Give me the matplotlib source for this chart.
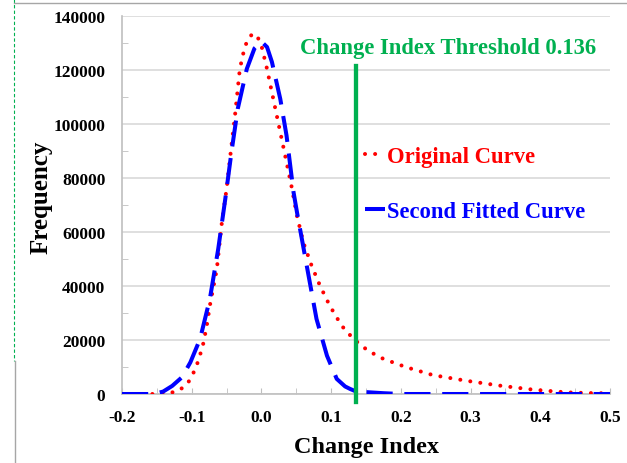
import matplotlib
matplotlib.use("Agg")
import matplotlib.pyplot as plt
from matplotlib.lines import Line2D
from matplotlib.ticker import MultipleLocator

# Original curve (red, dotted)
orig_x = [-0.20, -0.15, -0.14, -0.13, -0.122, -0.113, -0.105, -0.099, -0.093,
          -0.088, -0.083, -0.078, -0.074, -0.069, -0.064, -0.057, -0.050,
          -0.043, -0.038, -0.031, -0.024, -0.018, -0.012, -0.006, 0.000,
          0.008, 0.019, 0.029, 0.043, 0.051, 0.060, 0.072, 0.084, 0.098,
          0.115, 0.132, 0.153, 0.175, 0.208, 0.246, 0.294, 0.342, 0.390,
          0.438, 0.470, 0.500]
orig_y = [0, 0, 200, 500, 900, 2300, 4300, 7000, 10500,
          14500, 19100, 26000, 32700, 39500, 46300, 63000, 76000,
          92000, 103000, 120400, 128500, 132000, 133500, 132500, 129000,
          120400, 106800, 94500, 77100, 66000, 56200, 47500, 40100, 32700,
          25300, 20400, 16000, 13000, 9900, 7000, 4900, 3100, 1600,
          600, 350, 250]

# Second fitted curve (blue, dashed)
fit_x = [-0.20, -0.16, -0.15, -0.141, -0.128, -0.114, -0.102, -0.088, -0.074,
         -0.062, -0.052, -0.043, -0.034, -0.021, -0.010, 0.000, 0.008, 0.015,
         0.027, 0.036, 0.046, 0.051, 0.065, 0.079, 0.094, 0.108, 0.120,
         0.127, 0.136, 0.150, 0.175, 0.200, 0.500]
fit_y = [0, 0, 300, 900, 3000, 6200, 11700, 20400, 35200,
         53700, 72000, 89600, 105600, 120400, 128000, 130500, 128500, 123000,
         109300, 95700, 74800, 67300, 47500, 27800, 14200, 5600, 2800,
         1900, 900, 700, 300, 0, 0]

threshold = 0.136
threshold_top = 121500

RED = "#ff0000"
BLUE = "#0000ff"
GREEN = "#00b050"
GRID = "#d9d9d9"
FONT = "Liberation Serif"

plt.rcParams["font.family"] = [FONT, "DejaVu Serif"]
plt.rcParams["font.weight"] = "bold"

fig = plt.figure(figsize=(6.27, 4.64), dpi=100)
ax = fig.add_axes([0.1946, 0.1487, 0.7783, 0.8147])

# Curves
ax.plot(orig_x, orig_y, color=RED, linewidth=2.9,
        linestyle=(0, (0.01, 2.5)), dash_capstyle="round",
        label="Original Curve", zorder=3)
ax.plot(fit_x, fit_y, color=BLUE, linewidth=2.9,
        linestyle=(0, (6.5, 2.9)), label="Second Fitted Curve", zorder=4)

# Threshold line
ax.plot([threshold, threshold], [-3000, threshold_top], color=GREEN,
        linewidth=3.1, clip_on=False, zorder=5)
ax.text(0.268, 128200, "Change Index Threshold 0.136", color=GREEN,
        fontsize=16.3, fontweight="bold", ha="center", va="center")

# Axes
ax.set_xlim(-0.2, 0.5)
ax.set_ylim(0, 140000)
ax.xaxis.set_major_locator(MultipleLocator(0.1))
ax.xaxis.set_minor_locator(MultipleLocator(0.05))
ax.yaxis.set_major_locator(MultipleLocator(20000))
ax.yaxis.set_minor_locator(MultipleLocator(10000))
ax.xaxis.set_major_formatter(lambda v, pos: f"{v:.1f}")
ax.yaxis.set_major_formatter(lambda v, pos: f"{v:.0f}")

ax.tick_params(axis="x", which="both", direction="in", length=4,
               color="#bfbfbf", pad=11, labelsize=12.5)
ax.tick_params(axis="y", which="major", length=0, pad=12, labelsize=12.5)
ax.tick_params(axis="y", which="minor", direction="in", length=4,
               color="#bfbfbf")

ax.grid(axis="y", which="major", color=GRID, linewidth=1.2)
ax.set_axisbelow(True)
for side in ["top", "right"]:
    ax.spines[side].set_visible(False)
for side in ["left", "bottom"]:
    ax.spines[side].set_color("#bfbfbf")
    ax.spines[side].set_linewidth(1.2)

ax.set_xlabel("Change Index", fontsize=17.5, fontweight="bold", labelpad=8)
ax.set_ylabel("Frequency", fontsize=18, fontweight="bold")
ax.yaxis.set_label_coords(-0.142, 0.524)

# Legend
ax.legend(loc="upper left", bbox_to_anchor=(0.497, 0.656),
          bbox_transform=ax.transAxes, frameon=False, handlelength=0.9,
          handletextpad=0.1, labelspacing=1.5, borderpad=0,
          borderaxespad=0, labelcolor="linecolor",
          prop={"family": FONT, "weight": "bold", "size": 16.3})

# Screenshot frame
fig.add_artist(Line2D([14 / 627, 1], [1 - 4 / 464, 1 - 4 / 464],
                      color="#a6a6a6", linewidth=1, transform=fig.transFigure))
fig.add_artist(Line2D([14 / 627, 14 / 627], [1, 1 - 362 / 464],
                      color=GREEN, linewidth=0.8, linestyle=(0, (3, 2)),
                      transform=fig.transFigure))
fig.add_artist(Line2D([15 / 627, 15 / 627], [1 - 362 / 464, 0],
                      color="#a6a6a6", linewidth=1, transform=fig.transFigure))

fig.savefig("out.png", dpi=100)
